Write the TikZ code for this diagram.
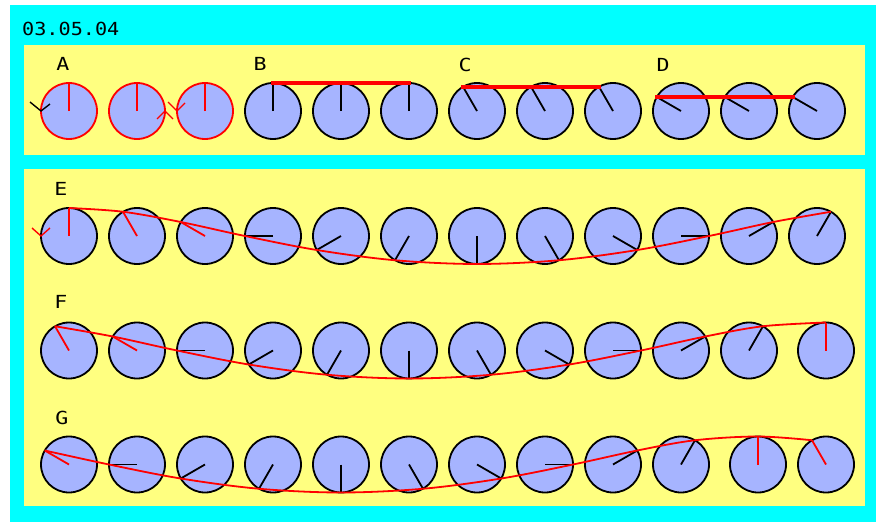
\documentclass[tikz,border=0pt]{standalone}
\usepackage{fontspec}
\newfontfamily\pixfont{DejaVu Sans Mono}
\definecolor{bgcyan}{RGB}{0,255,255}
\definecolor{panelc}{RGB}{255,255,128}
\definecolor{wheelc}{RGB}{166,180,255}
\begin{document}
\begin{tikzpicture}[x=1pt,y=-1pt,
  wheel/.style={circle, draw=black, fill=wheelc, line width=1.8pt, minimum size=56pt, inner sep=0pt, outer sep=0pt},
  hand/.style={line width=1.8pt},
  trace/.style={red, line width=1.8pt, line join=round},
  bar/.style={red, line width=3.8pt, line cap=rect},
  tick/.style={line width=1.4pt},
  lbl/.style={font=\pixfont\fontsize{18}{18}\selectfont, xscale=1.2, inner sep=0pt}]
\useasboundingbox (0,0) rectangle (876,522);
\fill[white] (0,0) rectangle (876,522);
\fill[bgcyan] (10,5) rectangle (876,522);
\fill[panelc] (24,45) rectangle (865,155);
\fill[panelc] (24,169) rectangle (865,506);

\node[font=\pixfont\fontsize{18}{18}\selectfont, xscale=1.12, anchor=west, inner sep=0pt] (date) at (22,28.5) {03.05.04};
\node[lbl] (la) at (63,63.5) {A};
\node[lbl] (lb) at (260,63.5) {B};
\node[lbl] (lc) at (465,64.5) {C};
\node[lbl] (ld) at (663,64.5) {D};
\node[lbl] (le) at (61,188.5) {E};
\node[lbl] (lf) at (61,301.5) {F};
\node[lbl] (lg) at (62,417.5) {G};

% top row
\foreach \n/\x/\p/\o/\c in {a1/69/0/red/red, a2/137/0/red/red, a3/205/0/red/red,
  b1/273/0/black/black, b2/341/0/black/black, b3/409/0/black/black,
  c1/477/30/black/black, c2/545/30/black/black, c3/613/30/black/black,
  d1/681/60/black/black, d2/749/60/black/black, d3/817/60/black/black}{
  \node[wheel, draw=\o] (\n) at (\x,111) {};
  \pgfmathtruncatemacro\ang{90+\p}
  \coordinate (\n t) at (\n.\ang);
  \draw[hand, \c] (\n.center) -- (\n t);
}
\draw[bar] (b1t) -- (b3t);
\draw[bar] (c1t) -- (c3t);
\draw[bar] (d1t) -- (d3t);
% rotation marks
\draw[tick, black] (a1.180) ++(-11,-9) -- (a1.180) -- ++(9,-7);
\draw[tick, red] (a2.0) ++(-8,8) -- (a2.0) -- ++(8,8);
\draw[tick, red] (a3.180) ++(-9,-9) -- (a3.180) -- ++(8,-8);

% row E
\foreach \i/\x/\p/\c in {0/69/0/red, 1/137/30/red, 2/205/60/red, 3/273/90/black,
  4/341/120/black, 5/409/150/black, 6/477/180/black, 7/545/210/black,
  8/613/240/black, 9/681/270/black, 10/749/300/black, 11/817/330/black}{
  \node[wheel] (e\i) at (\x,236) {};
  \pgfmathtruncatemacro\ang{90+\p}
  \coordinate (e\i t) at (e\i.\ang);
  \draw[hand, \c] (e\i.center) -- (e\i t);
}
\draw[trace] plot[smooth, tension=0.55] coordinates {(e0t) (e1t) (e2t) (e3t) (e4t) (e5t) (e6t) (e7t) (e8t) (e9t) (e10t) (e11t)};
\draw[tick, red] (e0.180) ++(-9,-8) -- (e0.180) -- ++(9,-8);

% row F
\foreach \i/\x/\p/\c in {0/69/30/red, 1/137/60/red, 2/205/90/black, 3/273/120/black,
  4/341/150/black, 5/409/180/black, 6/477/210/black, 7/545/240/black,
  8/613/270/black, 9/681/300/black, 10/749/330/black, 11/826/360/red}{
  \node[wheel] (f\i) at (\x,350.5) {};
  \pgfmathtruncatemacro\ang{90+\p}
  \coordinate (f\i t) at (f\i.\ang);
  \draw[hand, \c] (f\i.center) -- (f\i t);
}
\draw[trace] plot[smooth, tension=0.55] coordinates {(f0t) (f1t) (f2t) (f3t) (f4t) (f5t) (f6t) (f7t) (f8t) (f9t) (f10t) (f11t)};

% row G
\foreach \i/\x/\p/\c in {0/69/60/red, 1/137/90/black, 2/205/120/black, 3/273/150/black,
  4/341/180/black, 5/409/210/black, 6/477/240/black, 7/545/270/black,
  8/613/300/black, 9/681/330/black, 10/758/360/red, 11/826/390/red}{
  \node[wheel] (g\i) at (\x,464.5) {};
  \pgfmathtruncatemacro\ang{90+\p}
  \coordinate (g\i t) at (g\i.\ang);
  \draw[hand, \c] (g\i.center) -- (g\i t);
}
\draw[trace] plot[smooth, tension=0.55] coordinates {(g0t) (g1t) (g2t) (g3t) (g4t) (g5t) (g6t) (g7t) (g8t) (g9t) (g10t) (g11t)};
\end{tikzpicture}
\end{document}
